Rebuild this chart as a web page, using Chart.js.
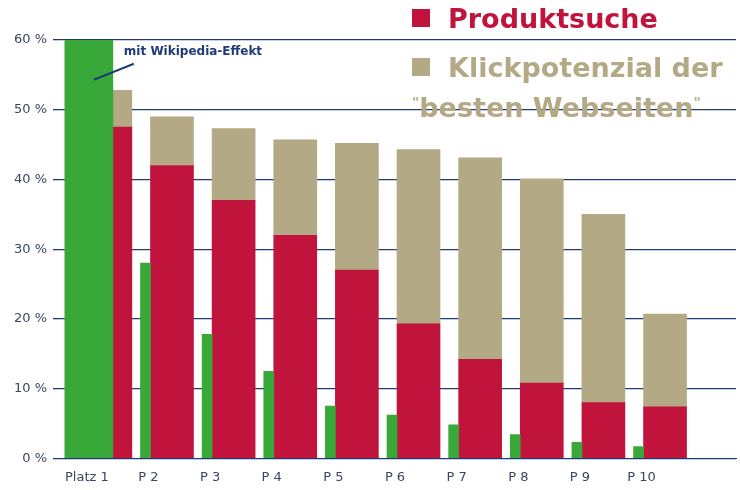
<!DOCTYPE html>
<html>
<head>
<meta charset="utf-8">
<script src="https://cdn.jsdelivr.net/npm/chart.js@4/dist/chart.umd.min.js"></script>
<style>
  body { margin: 0; background: #fff; font-family: "DejaVu Sans", sans-serif; }
  #wrap { position: relative; width: 740px; height: 490px; }
  .leg { position: absolute; font-weight: bold; font-size: 27px; line-height: 34px; white-space: nowrap; }
  .leg i { display: inline-block; width: 18px; height: 18px; margin-right: 18px; vertical-align: 1px; }
  .q { font-size: 14px; vertical-align: 10px; }
</style>
</head>
<body>
<div id="wrap">
  <canvas id="chart" width="740" height="490"></canvas>
  <div class="leg" style="left:412px;top:2px;color:#C0143C"><i style="background:#C0143C"></i>Produktsuche</div>
  <div class="leg" style="left:412px;top:51px;color:#B3A984"><i style="background:#B3A984"></i>Klickpotenzial der<br><span class="q">"</span>besten Webseiten<span class="q">"</span></div>
</div>
<script>
/* data */
const labels = ["Platz 1", "P 2", "P 3", "P 4", "P 5", "P 6", "P 7", "P 8", "P 9", "P 10", ""];
const produktsuche = [47.5, 42, 37, 32, 27, 19.3, 14.2, 10.8, 8, 7.4];
const gesamt = [52.8, 49, 47.3, 45.7, 45.2, 44.3, 43.1, 40.1, 35, 20.7];
const wikipedia = [null, 28, 17.8, 12.5, 7.5, 6.2, 4.8, 3.4, 2.3, 1.7];
const wikiPlatz1 = [60.3];
const yTicks = [0, 10, 20, 30, 40, 50, 60];

const COLORS = { green: "#38A838", red: "#C0143C", tan: "#B3A984", navy: "#1F3A78", text: "#3A4660" };

const klick = gesamt.map((v, i) => +(v - produktsuche[i]).toFixed(1));

const annotation = {
    id: "annotation",
    afterDatasetsDraw(chart) {
        const { ctx, scales } = chart;
        const x0 = scales.x.getPixelForValue(0);
        ctx.save();
        ctx.strokeStyle = COLORS.navy;
        ctx.lineWidth = 2;
        ctx.beginPath();
        ctx.moveTo(x0 + 5, scales.y.getPixelForValue(54.3));
        ctx.lineTo(x0 + 45, scales.y.getPixelForValue(56.6));
        ctx.stroke();
        ctx.fillStyle = COLORS.navy;
        ctx.font = "bold 12px 'DejaVu Sans'";
        ctx.fillText("mit Wikipedia-Effekt", x0 + 35, scales.y.getPixelForValue(57.8));
        ctx.restore();
    }
};

new Chart(document.getElementById("chart"), {
    type: "bar",
    data: {
        labels: labels,
        datasets: [
            { label: "Wiki P1", data: wikiPlatz1, backgroundColor: COLORS.green, xAxisID: "x2", barThickness: 48, grouped: false },
            { label: "Wikipedia", data: wikipedia, backgroundColor: COLORS.green, stack: "g", barThickness: 10 },
            { label: "Produktsuche", data: produktsuche, backgroundColor: COLORS.red, stack: "r", barThickness: 43 },
            { label: "Klickpotenzial", data: klick, backgroundColor: COLORS.tan, stack: "r", barThickness: 43 }
        ]
    },
    options: {
        responsive: false,
        animation: false,
        layout: { padding: { left: 8, right: 4, top: 40, bottom: 2 } },
        datasets: { bar: { categoryPercentage: 0.86 } },
        plugins: { legend: { display: false }, tooltip: { enabled: false } },
        scales: {
            x: {
                stacked: true,
                grid: { display: false },
                border: { color: COLORS.navy, width: 1 },
                ticks: { color: COLORS.text, font: { family: "'DejaVu Sans'", size: 13 }, labelOffset: -2, maxRotation: 0, autoSkip: false }
            },
            x2: { display: false, offset: true, labels: labels },
            y: {
                stacked: true,
                min: 0, max: 60,
                afterBuildTicks: (axis) => { axis.ticks = yTicks.map(v => ({ value: v })); },
                grid: { color: COLORS.navy, lineWidth: 1.3, tickLength: 5 },
                border: { display: false },
                ticks: { color: COLORS.text, font: { family: "'DejaVu Sans'", size: 13 }, padding: 6, callback: (v) => v + " %" }
            }
        }
    },
    plugins: [annotation]
});
</script>
</body>
</html>
